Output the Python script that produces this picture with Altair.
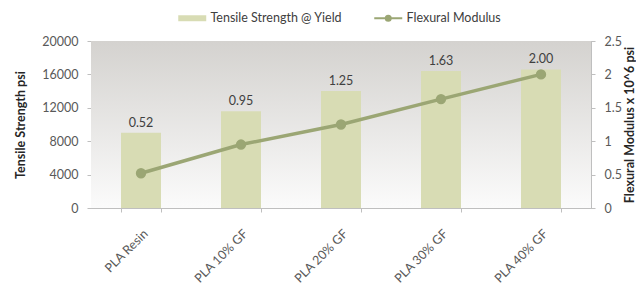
import altair as alt
import pandas as pd

categories = ["PLA Resin", "PLA 10% GF", "PLA 20% GF", "PLA 30% GF", "PLA 40% GF"]
tensile = [9000, 11600, 14000, 16400, 16600]
modulus = [0.52, 0.95, 1.25, 1.63, 2.00]
left_ticks = [0, 4000, 8000, 12000, 16000, 20000]
right_ticks = [0, 0.5, 1, 1.5, 2, 2.5]

df = pd.DataFrame({
    "cat": categories,
    "tensile": tensile,
    "modulus": modulus,
    "s1": ["Tensile Strength @ Yield"] * 5,
    "s2": ["Flexural Modulus"] * 5,
})

FONT = "Lato"
BAR = "#d8dcb4"
LINE = "#9ba674"
W, H = 500, 167
FS = 12.5

x = alt.X("cat:N", sort=categories, title=None,
          scale=alt.Scale(paddingInner=0.6, paddingOuter=0.3),
          axis=alt.Axis(labelAngle=-45, labelAlign="right", labelBaseline="top",
                        tickBand="extent", tickSize=4, labelPadding=15,
                        domainColor="#bfbfbf", tickColor="#bfbfbf",
                        labelColor="#595959", labelFontSize=FS, labelFont=FONT))

bg = alt.Chart(pd.DataFrame({"a": [0]})).mark_rect(
    color=alt.Gradient(gradient="linear", x1=0, x2=0, y1=0, y2=1,
                       stops=[alt.GradientStop(color="#d4d2cf", offset=0),
                              alt.GradientStop(color="#fbfbfb", offset=1)])
).encode(x=alt.value(0), x2=alt.value(W), y=alt.value(0), y2=alt.value(H))

yl = alt.Y("tensile:Q", title="Tensile Strength psi",
           scale=alt.Scale(domain=[0, 20000]),
           axis=alt.Axis(values=left_ticks, format="d", grid=True, gridColor="#b0b0b0",
                         labelOverlap=False, labelPadding=9,
                         domainColor="#bfbfbf", tickColor="#bfbfbf", tickSize=4,
                         labelColor="#595959", labelFontSize=FS, titleFontSize=12.5,
                         titleColor="#262626", titleFontWeight="bold", titlePadding=14))

bars = alt.Chart(df).mark_bar(size=40).encode(
    x=x, y=yl,
    fill=alt.Fill("s1:N", scale=alt.Scale(range=[BAR]),
                  legend=alt.Legend(title=None, orient="none", legendX=95, legendY=-29,
                                    symbolType="M-2.8,-0.6H2.8V0.6H-2.8Z", symbolSize=100,
                                    symbolStrokeWidth=0, labelOffset=12,
                                    labelFontSize=FS, labelColor="#404040", labelFont=FONT)))

text = alt.Chart(df).mark_text(dy=-10, fontSize=FS, color="#404040", font=FONT).encode(
    x=x, y=yl,
    text=alt.Text("modulus:Q", format=".2f"))

yr = alt.Y("modulus:Q", title="Flexural Modulus x 10^6 psi",
           scale=alt.Scale(domain=[0, 2.5]),
           axis=alt.Axis(orient="right", values=right_ticks, format="~g", grid=False,
                         labelOverlap=False, titleAngle=270, labelPadding=9,
                         domainColor="#bfbfbf", tickColor="#bfbfbf", tickSize=4,
                         labelColor="#595959", labelFontSize=FS, titleFontSize=12.5,
                         titleColor="#262626", titleFontWeight="bold", titlePadding=15))

line = alt.Chart(df).mark_line(strokeWidth=3.5, point=alt.OverlayMarkDef(size=70, filled=True, color=LINE)).encode(
    x=x, y=yr,
    stroke=alt.Stroke("s2:N", scale=alt.Scale(range=[LINE]),
                      legend=alt.Legend(title=None, orient="none", legendX=291, legendY=-29,
                                        symbolType="M-2.8,0H2.8M-0.5,0A0.5,0.5 0 1 1 0.5,0A0.5,0.5 0 1 1 -0.5,0",
                                        symbolSize=100, symbolStrokeWidth=2, symbolFillColor=LINE,
                                        labelOffset=12,
                                        labelFontSize=FS, labelColor="#404040", labelFont=FONT)))

left = alt.layer(bg, bars, text)
chart = alt.layer(left, line).resolve_scale(y="independent", fill="independent", stroke="independent").properties(
    width=W, height=H, padding={"left": 6, "top": 4, "right": 0, "bottom": 0}
).configure_view(stroke=None).configure(font=FONT).configure_axis(labelFont=FONT, titleFont=FONT)

chart.save("out.html", embed_options={"renderer": "svg", "actions": False})
